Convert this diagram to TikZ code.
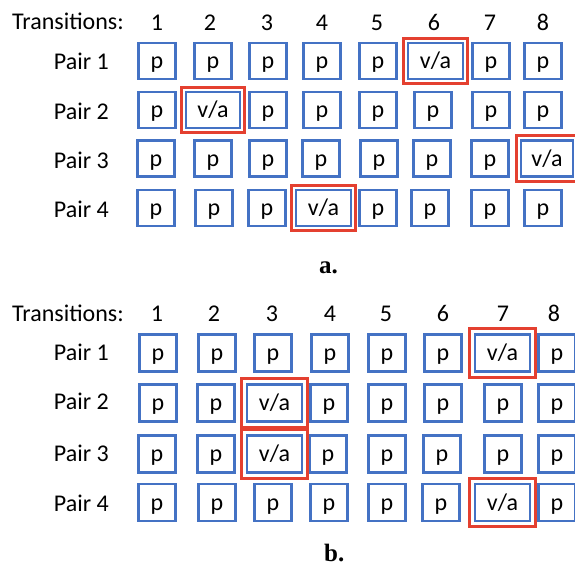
\documentclass[tikz,border=0pt]{standalone}
\usepackage{fontspec}
\setmainfont{Carlito}
\newfontfamily\captionserif{Liberation Serif}
\definecolor{boxblue}{RGB}{68,114,196}
\definecolor{markred}{RGB}{228,64,48}
% red frame drawn just outside a cell
\newcommand{\hiliteframe}[2]{%
  \draw[hilite] ([shift={(-#2,#2)}]#1.north west) rectangle ([shift={(#2,-#2)}]#1.south east);}
\begin{document}
\begin{tikzpicture}[x=1pt,y=-1pt,
  txt/.style={font=\fontsize{24}{28}\selectfont, inner sep=0pt},
  cell/.style={txt, draw=boxblue, line width=2.2pt, minimum width=37pt, minimum height=36pt,
    text height=18pt, text depth=3pt},
  widecell/.style={cell, minimum width=55pt},
  hilite/.style={draw=markred, line width=3pt},
  panelcap/.style={font=\captionserif\bfseries\fontsize{25}{30}\selectfont, inner sep=0pt}
]
\useasboundingbox (0,0) rectangle (575,568);
\clip (0,0) rectangle (575,568);

% ---------------- panel a ----------------
\node[txt, anchor=west] (ahead) at (12,21) {Transitions:};
\foreach \x/\i in {157/1,210/2,267/3,322/4,377/5,434/6,490/7,543/8}
  \node[txt] (anum\i) at (\x,22.5) {\i};

\foreach \y/\r in {61/1,111.5/2,160.5/3,209/4}
  \node[txt, anchor=east] (apair\r) at (109,\y) {Pair \r};

% row 1
\foreach \x/\i in {157/1,213/2,268/3,322/4,378/5,491/7,543/8}
  \node[cell] (a1c\i) at (\x,61) {p};
\node[widecell] (a1c6) at (435.5,61) {v/a};
\hiliteframe{a1c6}{3.5pt}
% row 2
\foreach \x/\i in {157/1,268/3,322/4,378/5,433/6,491/7,543/8}
  \node[cell] (a2c\i) at (\x,110) {p};
\node[widecell, minimum width=54pt] (a2c2) at (213,110) {v/a};
\hiliteframe{a2c2}{3.5pt}
% row 3
\foreach \x/\i in {156/1,213/2,268/3,321/4,379/5,432/6,490/7}
  \node[cell] (a3c\i) at (\x,158.5) {p};
\node[widecell, minimum width=52pt] (a3c8) at (547,158.5) {v/a};
\hiliteframe{a3c8}{3.5pt}
% row 4
\foreach \x/\i in {156/1,214/2,267/3,378/5,430/6,490/7,543/8}
  \node[cell] (a4c\i) at (\x,208) {p};
\node[widecell] (a4c4) at (323.5,208) {v/a};
\hiliteframe{a4c4}{3.5pt}

\node[panelcap, anchor=base west] (acap) at (319,273) {a.};

% ---------------- panel b ----------------
\node[txt, anchor=west] (bhead) at (12,313) {Transitions:};
\foreach \x/\i in {157/1,214/2,272/3,330/4,386/5,443/6,503/7,554/8}
  \node[txt] (bnum\i) at (\x,313.5) {\i};

\foreach \y/\r in {352/1,401.5/2,453.5/3,503.5/4}
  \node[txt, anchor=east] (bpair\r) at (109,\y) {Pair \r};

% row 1
\foreach \x/\i in {158/1,217/2,273/3,330/4,387/5,443/6,557/8}
  \node[cell, minimum height=37pt] (b1c\i) at (\x,353) {p};
\node[widecell, minimum height=37pt] (b1c7) at (502.5,353) {v/a};
\hiliteframe{b1c7}{4.5pt}
% row 2
\foreach \x/\i in {158/1,216/2,329/4,387/5,443/6,503/7,557/8}
  \node[cell, minimum height=37pt] (b2c\i) at (\x,403) {p};
\node[widecell, minimum height=37pt] (b2c3) at (274.5,403) {v/a};
\hiliteframe{b2c3}{4.5pt}
% row 3
\foreach \x/\i in {157/1,216/2,328/4,387/5,442/6,503/7,557/8}
  \node[cell, minimum height=37pt] (b3c\i) at (\x,454) {p};
\node[widecell, minimum height=37pt] (b3c3) at (274.5,454) {v/a};
\hiliteframe{b3c3}{4.5pt}
% row 4
\foreach \x/\i in {157/1,217/2,273/3,329/4,387/5,441/6,557/8}
  \node[cell, minimum height=37pt] (b4c\i) at (\x,502.5) {p};
\node[widecell, minimum height=37pt] (b4c7) at (502.5,502.5) {v/a};
\hiliteframe{b4c7}{4.5pt}

\node[panelcap, anchor=base west] (bcap) at (324,561) {b.};
\end{tikzpicture}
\end{document}
